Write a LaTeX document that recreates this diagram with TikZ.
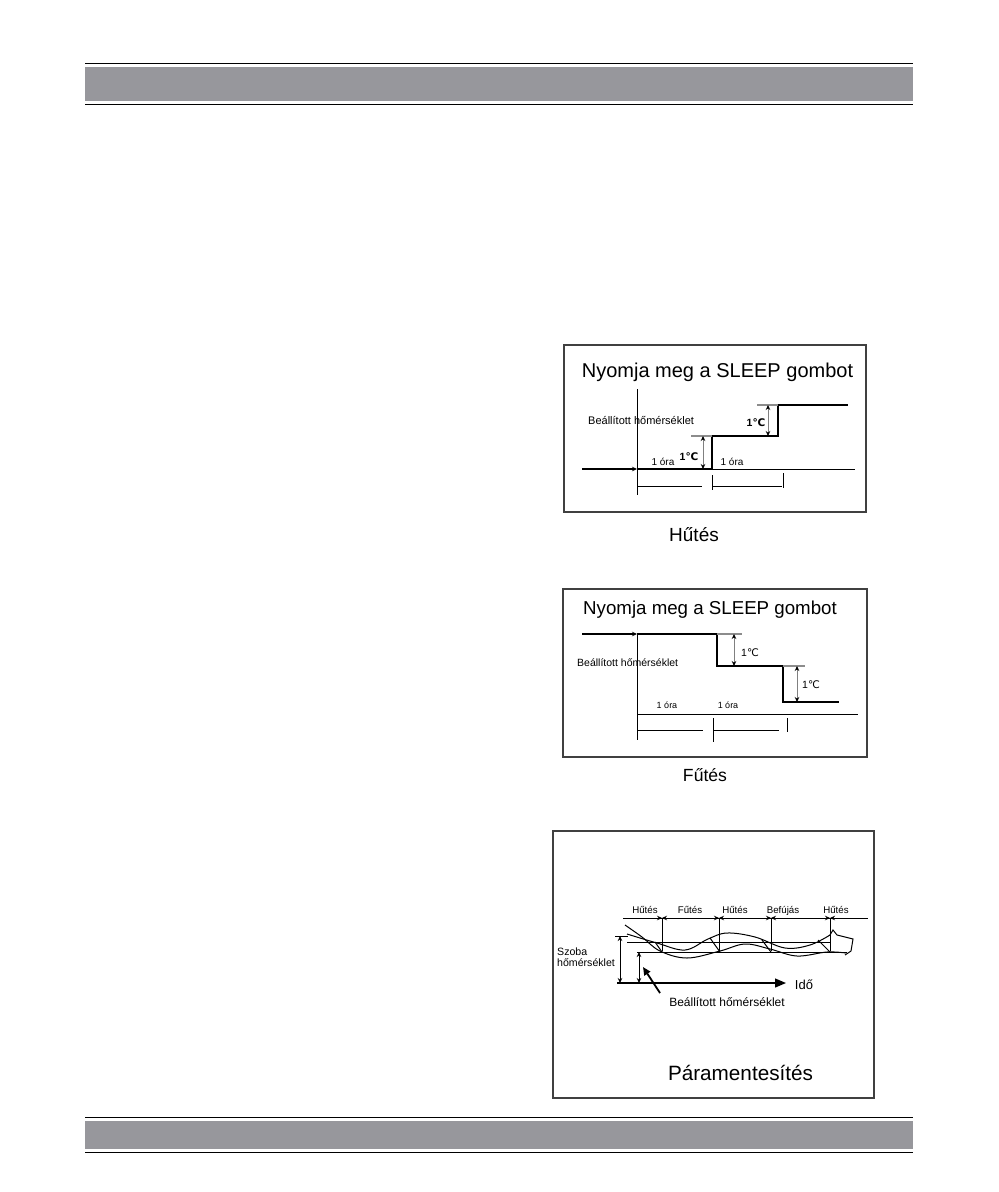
\documentclass[tikz,border=0pt]{standalone}
\usepackage{fontspec}
\setmainfont{Liberation Sans}
\newfontfamily\symfont{DejaVu Sans}
\usetikzlibrary{arrows.meta,positioning}
\definecolor{bargray}{RGB}{151,151,156}
\newcommand{\degc}{{\symfont ℃}}

\begin{document}
\begin{tikzpicture}[
  x=1pt, y=-1pt,
  >={Stealth[length=5pt,width=4.5pt,color=black]},
  frame/.style={draw=black!75, line width=1.1pt},
  stepline/.style={line width=1.3pt},
  axisline/.style={line width=1pt},
  tickline/.style={draw=black!45, line width=1.2pt},
  dimline/.style={<->, draw=black!50, line width=0.9pt},
  title/.style={font=\fontsize{20}{24}\selectfont, inner sep=0pt, anchor=base},
  caption/.style={font=\fontsize{19}{22}\selectfont, inner sep=0pt},
  lbl/.style={font=\fontsize{11}{13}\selectfont, inner sep=0pt},
  hour/.style={font=\fontsize{10}{12}\selectfont, inner sep=0pt},
  deg/.style={font=\fontsize{10.5}{12}\selectfont, inner sep=0pt},
  mode/.style={font=\fontsize{9.7}{11}\selectfont, inner sep=0pt, anchor=base},
]
\useasboundingbox (0,0) rectangle (999,1192);

% Page header and footer bars
\fill[bargray] (85,67) rectangle (913,100.7);
\draw[line width=1.3pt] (85,63.3) -- (913,63.3) (85,104.3) -- (913,104.3);
\fill[bargray] (85,1121) rectangle (913,1148.7);
\draw[line width=1.3pt] (85,1117.3) -- (913,1117.3) (85,1152.3) -- (913,1152.3);

% Cooling chart
\draw[frame] (564,345) rectangle (866,512);
\node[title] (cooltitle) at (717.5,377) {Nyomja meg a SLEEP gombot};
\coordinate (coolstart) at (582,469);
\coordinate (coolorig) at (637,469);
\draw[->, line width=1.3pt] (coolstart) -- (coolorig);
\draw[axisline] (637,389) -- (637,495);
\draw[axisline] (coolorig) -- (855,469);
\draw[stepline] (coolorig) -- (712,469) -- (712,436) -- (778,436) -- (778,405) -- (848,405);
\draw[tickline] (691,436) -- (712,436) (757,405) -- (778,405);
\draw[dimline] (703,436) -- (703,469);
\draw[dimline] (768,405) -- (768,436);
\node[deg, font=\fontsize{10.5}{12}\selectfont\bfseries] (cooldeg1) at (689,457) {1\degc};
\node[deg, font=\fontsize{10.5}{12}\selectfont\bfseries] (cooldeg2) at (756,423) {1\degc};
\node[lbl, anchor=west] (coolset) at (588,420) {Beállított hőmérséklet};
\node[hour] (coolh1) at (663,462) {1 óra};
\node[hour] (coolh2) at (732,462) {1 óra};
\draw[axisline] (637,486) -- (702,486) (712,486) -- (782,486);
\draw[axisline] (712,475) -- (712,490) (783,473) -- (783,488);
\node[caption] (coolcap) at (694,535) {Hűtés};

% Heating chart
\draw[frame] (563,589) rectangle (867,757);
\node[title, font=\fontsize{18.7}{22}\selectfont] (heattitle) at (710,614) {Nyomja meg a SLEEP gombot};
\coordinate (heatstart) at (582,634);
\coordinate (heatorig) at (637,634);
\draw[->, line width=1.3pt] (heatstart) -- (heatorig);
\draw[axisline] (heatorig) -- (637,740);
\draw[stepline] (heatorig) -- (717,634) -- (717,666) -- (783,666) -- (783,702) -- (839,702);
\draw[tickline] (717,634) -- (742,634) (783,666) -- (805,666);
\draw[axisline] (637,714) -- (858,714);
\draw[dimline] (734,634) -- (734,666);
\draw[dimline] (797,666) -- (797,702);
\node[deg] (heatdeg1) at (750,653) {1\degc};
\node[deg] (heatdeg2) at (811,685) {1\degc};
\node[lbl, font=\fontsize{10.5}{12}\selectfont, anchor=west] (heatset) at (577,663) {Beállított hőmérséklet};
\node[hour, font=\fontsize{9}{11}\selectfont] (heath1) at (667,705) {1 óra};
\node[hour, font=\fontsize{9}{11}\selectfont] (heath2) at (728,705) {1 óra};
\draw[axisline] (637,730) -- (703,730) (713,730) -- (779,730);
\draw[axisline] (713,718) -- (713,742) (787,718) -- (787,732);
\node[caption, font=\fontsize{17.6}{21}\selectfont] (heatcap) at (705,775) {Fűtés};

% Dry mode chart
\draw[frame] (553,831) rectangle (874,1098);
\draw[axisline] (623,918) -- (868,918);
\foreach \x in {662,719,771,830} {
  \draw[axisline] (\x,918) -- (\x,951);
  \draw[->, axisline] (\x-9,918) -- (\x,918);
  \draw[->, axisline] (\x+9,918) -- (\x,918);
}
\foreach \x/\m [count=\i] in {645/Hűtés,690/Fűtés,735/Hűtés,783/Befújás,836/Hűtés}
  \node[mode] (mode\i) at (\x,913.5) {\m};
\draw[axisline] (627,942) -- (830,942);
\draw[axisline] (637,952) -- (847,952);
\draw[axisline] plot[smooth, tension=0.6] coordinates {(625,925) (642,937) (660,951) (687,958) (720,951) (745,944) (770,949) (797,956) (827,952) (846,953)};
\draw[axisline] plot[smooth, tension=0.6] coordinates {(627,934) (657,943) (685,950) (708,939) (727,933) (755,937) (785,948) (810,945) (830,935)};
\draw[axisline] (655,942) -- (662,952) (710,938) -- (720,952) (762,940) -- (771,952) (818,940) -- (830,952);
\draw[axisline] (830,935) -- (833,930) -- (837,935) -- (853,939) -- (851,951) -- (845,955);
% Room temperature axis
\coordinate (dryorig) at (617,983);
\coordinate (dryend) at (786,983);
\draw[-{Triangle[length=11pt,width=9pt]}, line width=1.3pt] (dryorig) -- (dryend);
\draw[axisline] (615,936) -- (628,936);
\draw[dimline, draw=black, line width=1pt] (620,936) -- (620,983);
\draw[dimline, draw=black, line width=1pt] (639,952) -- (639,983);
\node[mode, font=\fontsize{13}{15}\selectfont, anchor=center] (drytime) at (804,985) {Idő};
\node[lbl, font=\fontsize{10.6}{11}\selectfont, align=left, anchor=west] (dryroom) at (557,957) {Szoba\\hőmérséklet};
\node[lbl, font=\fontsize{12}{14}\selectfont] (dryset) at (727,1002) {Beállított hőmérséklet};
\coordinate (pointtip) at (643,967);
\draw[-{Triangle[length=8pt,width=7pt]}, line width=1.8pt] (660,993) -- (pointtip);
\node[title, font=\fontsize{20.7}{24}\selectfont] (drycap) at (740.5,1080) {Páramentesítés};
\end{tikzpicture}
\end{document}
